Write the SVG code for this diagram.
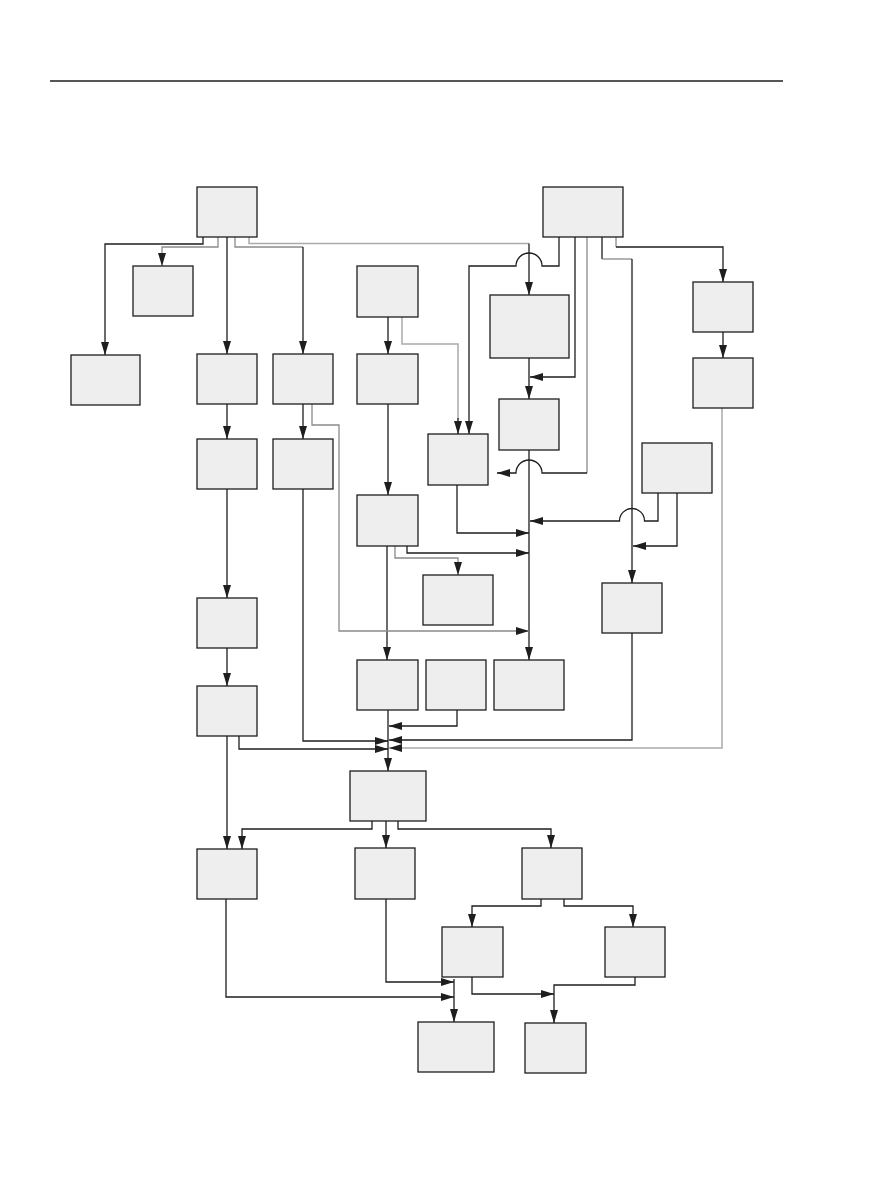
<svg xmlns="http://www.w3.org/2000/svg" width="892" height="1188" viewBox="0 0 892 1188">
<defs>
<style>
.box{fill:#eeeeee;stroke:#1e1e1e;stroke-width:1.3}
.c{fill:none;stroke:#1e1e1e;stroke-width:1.3}
.g{fill:none;stroke:#8a8a8a;stroke-width:1.3}
.lg{fill:none;stroke:#aaaaaa;stroke-width:1.5}
.a{marker-end:url(#arr)}
</style>
<marker id="arr" markerUnits="userSpaceOnUse" markerWidth="14" markerHeight="9" refX="13" refY="4" orient="auto">
<path d="M0,0 L13,4 L0,8 z" fill="#1e1e1e"/>
</marker>
</defs>
<rect width="892" height="1188" fill="#ffffff"/>
<line x1="50" y1="81" x2="783" y2="81" stroke="#1e1e1e" stroke-width="1.5"/>

<g id="connectors">
<path class="c a" d="M203,237 V244 H105 V355"/>
<path class="g a" d="M218,237 V247 H162 V266"/>
<path class="c a" d="M227,237 V354"/>
<path class="g" d="M235,237 V247 H303"/>
<path class="c a" d="M303,247 V354"/>
<path class="lg" d="M249,237 V243.5 H529"/>
<path class="c a" d="M529,243.5 V295"/>
<path class="c a" d="M559,237 V266 H542 A13,13 0 0 0 516,266 H469 V434"/>
<path class="c a" d="M575,237 V377 H530"/>
<path class="g" d="M587,237 V473"/>
<path class="c a" d="M587,473 H542 A13,13 0 0 0 516,473 H497"/>
<path class="c" d="M602,237 V259"/>
<path class="g" d="M602,259 H632"/>
<path class="c a" d="M632,259 V583"/>
<path class="g" d="M616,237 V247"/>
<path class="c a" d="M616,247 H723 V282"/>
<path class="c a" d="M723,332 V358"/>
<path class="lg a" d="M722,408 V748 H389"/>
<path class="c a" d="M388,317 V354"/>
<path class="lg" d="M402,317 V344 H458 V420"/>
<path class="c a" d="M458,418 V434"/>
<path class="c a" d="M529,358 V399"/>
<path class="c a" d="M529,450 V660"/>
<path class="c a" d="M457,485 V533 H529"/>
<path class="c a" d="M658,493 V521 H644.5 A12.5,12.5 0 0 0 619.5,521 H530"/>
<path class="c a" d="M677,493 V546 H633"/>
<path class="c a" d="M388,404 V495"/>
<path class="c a" d="M387,546 V660"/>
<path class="c a" d="M407,546 V553 H529"/>
<path class="g a" d="M395,546 V558 H458 V575"/>
<path class="c a" d="M227,404 V439"/>
<path class="c a" d="M303,404 V439"/>
<path class="g a" d="M312,404 V425 H339 V631 H529"/>
<path class="c a" d="M227,489 V598"/>
<path class="c a" d="M227,648 V686"/>
<path class="c a" d="M303,489 V741 H388"/>
<path class="c a" d="M239,736 V749 H388"/>
<path class="c a" d="M227,736 V849"/>
<path class="c a" d="M632,633 V740 H389"/>
<path class="c a" d="M457,710 V726 H389"/>
<path class="c a" d="M388,710 V771"/>
<path class="c a" d="M372,821 V829 H242 V849"/>
<path class="c a" d="M386,821 V848"/>
<path class="c a" d="M398,821 V829 H551 V848"/>
<path class="c a" d="M541,899 V906 H472 V927"/>
<path class="c a" d="M564,899 V906 H633 V927"/>
<path class="c a" d="M386,899 V982 H454"/>
<path class="c a" d="M226,899 V997 H454"/>
<path class="c a" d="M454,979 V1022"/>
<path class="c a" d="M472,977 V994 H554"/>
<path class="c a" d="M635,977 V985 H554 V1023"/>
</g>

<g id="nA"><rect class="box" x="197" y="187" width="60" height="50"/></g>
<g id="nB"><rect class="box" x="133" y="266" width="60" height="50"/></g>
<g id="nC"><rect class="box" x="71" y="355" width="69" height="50"/></g>
<g id="nD"><rect class="box" x="197" y="354" width="60" height="50"/></g>
<g id="nE"><rect class="box" x="273" y="354" width="60" height="50"/></g>
<g id="nF"><rect class="box" x="543" y="187" width="80" height="50"/></g>
<g id="nG"><rect class="box" x="357" y="266" width="61" height="51"/></g>
<g id="nH"><rect class="box" x="490" y="295" width="79" height="63"/></g>
<g id="nI"><rect class="box" x="693" y="282" width="60" height="50"/></g>
<g id="nJ"><rect class="box" x="693" y="358" width="60" height="50"/></g>
<g id="nK"><rect class="box" x="357" y="354" width="61" height="50"/></g>
<g id="nL"><rect class="box" x="499" y="399" width="60" height="51"/></g>
<g id="nM"><rect class="box" x="428" y="434" width="60" height="51"/></g>
<g id="nN"><rect class="box" x="642" y="443" width="70" height="50"/></g>
<g id="nP"><rect class="box" x="197" y="439" width="60" height="50"/></g>
<g id="nQ"><rect class="box" x="273" y="439" width="60" height="50"/></g>
<g id="nR"><rect class="box" x="197" y="598" width="60" height="50"/></g>
<g id="nS"><rect class="box" x="197" y="686" width="60" height="50"/></g>
<g id="nV"><rect class="box" x="357" y="495" width="61" height="51"/></g>
<g id="nX"><rect class="box" x="423" y="575" width="70" height="50"/></g>
<g id="nO"><rect class="box" x="602" y="583" width="60" height="50"/></g>
<g id="nW"><rect class="box" x="357" y="660" width="61" height="50"/></g>
<g id="nZ"><rect class="box" x="426" y="660" width="60" height="50"/></g>
<g id="nY"><rect class="box" x="494" y="660" width="70" height="50"/></g>
<g id="nAA"><rect class="box" x="350" y="771" width="76" height="50"/></g>
<g id="nT"><rect class="box" x="197" y="849" width="60" height="50"/></g>
<g id="nBB"><rect class="box" x="355" y="848" width="60" height="51"/></g>
<g id="nCC"><rect class="box" x="522" y="848" width="60" height="51"/></g>
<g id="nDD"><rect class="box" x="442" y="927" width="61" height="50"/></g>
<g id="nEE"><rect class="box" x="605" y="927" width="60" height="50"/></g>
<g id="nFF"><rect class="box" x="418" y="1022" width="76" height="50"/></g>
<g id="nGG"><rect class="box" x="525" y="1023" width="61" height="50"/></g>
</svg>
